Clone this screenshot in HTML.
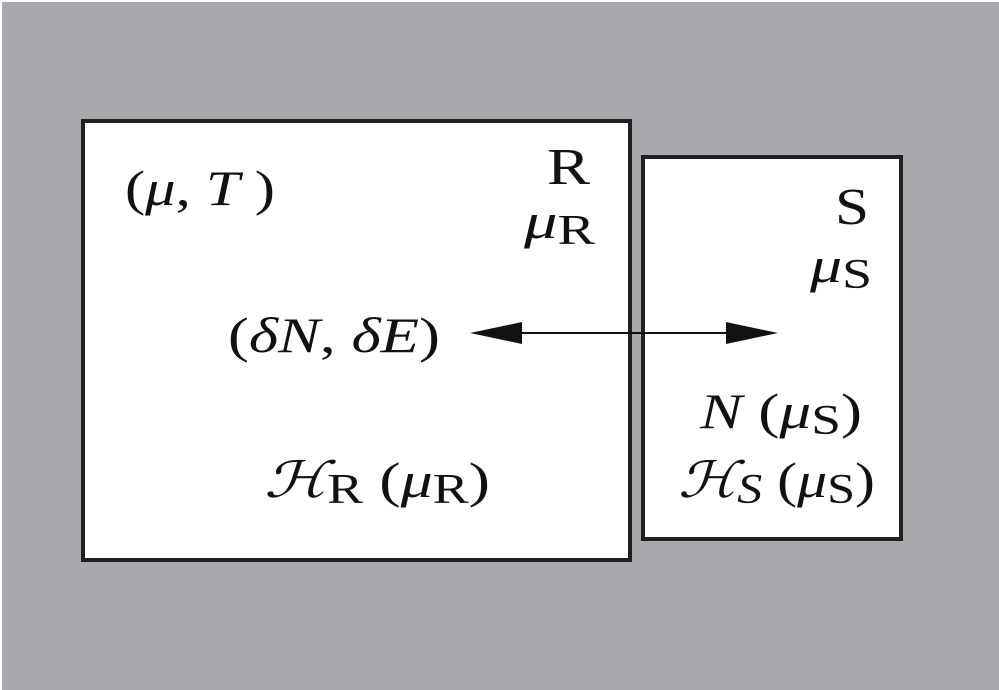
<!DOCTYPE html>
<html><head><meta charset="utf-8"><style>
html,body{margin:0;padding:0;background:#fff}
svg{display:block}
text{font-family:"Liberation Serif","DejaVu Serif",serif;fill:#111}
</style></head><body>
<svg width="999" height="690" viewBox="0 0 999 690">
<rect x="2" y="2" width="997" height="688" fill="#a8a9ad"/>
<rect x="83" y="121" width="547" height="439" fill="#fff" stroke="#231f20" stroke-width="4"/>
<rect x="643" y="157" width="258" height="382" fill="#fff" stroke="#231f20" stroke-width="4"/>
<text x="125" y="205" font-size="50" textLength="150" lengthAdjust="spacingAndGlyphs">(<tspan font-style="italic">μ</tspan>, <tspan font-style="italic">T</tspan> )</text>
<text x="547" y="184" font-size="52" textLength="43" lengthAdjust="spacingAndGlyphs">R</text>
<text x="524" y="238" font-size="50" textLength="71" lengthAdjust="spacingAndGlyphs"><tspan font-style="italic">μ</tspan><tspan font-size="42" dy="6">R</tspan></text>
<text x="835" y="224" font-size="52" textLength="34" lengthAdjust="spacingAndGlyphs">S</text>
<text x="810" y="282" font-size="50" textLength="62" lengthAdjust="spacingAndGlyphs"><tspan font-style="italic">μ</tspan><tspan font-size="42" dy="6">S</tspan></text>
<text x="228" y="352" font-size="50" textLength="212" lengthAdjust="spacingAndGlyphs">(<tspan font-style="italic">δN</tspan>, <tspan font-style="italic">δE</tspan>)</text>
<g>
<line x1="500" y1="333" x2="750" y2="333" stroke="#111" stroke-width="2"/>
<polygon points="470,333 522,322 522,344" fill="#111"/>
<polygon points="778,333 726,322 726,344" fill="#111"/>
</g>
<text x="700" y="428" font-size="50" textLength="162" lengthAdjust="spacingAndGlyphs"><tspan font-style="italic">N</tspan> (<tspan font-style="italic">μ</tspan><tspan font-size="42" dy="6">S</tspan><tspan dy="-6">)</tspan></text>
<text x="678" y="497" font-size="50" textLength="197" lengthAdjust="spacingAndGlyphs"><tspan font-style="italic">ℋ</tspan><tspan font-size="42" font-style="italic" dy="6">S</tspan><tspan dy="-6"> (</tspan><tspan font-style="italic">μ</tspan><tspan font-size="42" dy="6">S</tspan><tspan dy="-6">)</tspan></text>
<text x="264" y="497" font-size="50" textLength="226" lengthAdjust="spacingAndGlyphs"><tspan font-style="italic">ℋ</tspan><tspan font-size="42" dy="6">R</tspan><tspan dy="-6"> (</tspan><tspan font-style="italic">μ</tspan><tspan font-size="42" dy="6">R</tspan><tspan dy="-6">)</tspan></text>
</svg>
</body></html>
